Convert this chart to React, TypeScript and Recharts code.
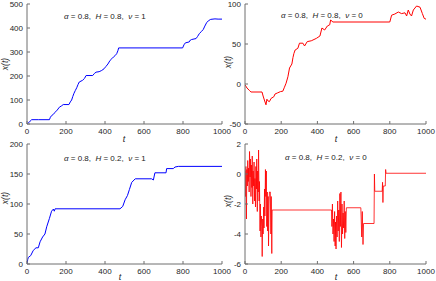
import React from 'react';
import { LineChart, Line, XAxis, YAxis } from 'recharts';

// panel 1: alpha 0.8, H 0.8, v 1
const t1 = [0, 8, 16, 24, 60, 115, 120, 126, 135, 144, 155, 166, 176, 186, 215, 222, 229, 235, 241, 248, 255, 262, 268, 285, 295, 303, 337, 345, 354, 370, 383, 395, 405, 415, 426, 435, 443, 452, 460, 466, 470, 798, 805, 812, 832, 838, 844, 867, 875, 884, 894, 904, 912, 921, 930, 942, 964, 980, 1000];
const x1 = [0, 5, 12, 18, 18, 18, 28, 35, 40, 49, 58, 70, 75, 81, 81, 92, 100, 115, 128, 140, 151, 165, 175, 182, 190, 202, 202, 210, 216, 218, 223, 230, 240, 250, 265, 272, 279, 285, 293, 305, 317, 317, 330, 338, 342, 350, 352, 356, 365, 377, 385, 394, 408, 422, 430, 436, 438, 437, 437];

// panel 2: alpha 0.8, H 0.8, v 0
const t2 = [0, 11, 24, 33, 94, 100, 107, 116, 121, 126, 135, 144, 159, 166, 181, 196, 209, 218, 227, 237, 246, 259, 265, 270, 277, 292, 301, 320, 329, 344, 366, 394, 414, 425, 440, 455, 468, 473, 486, 800, 810, 828, 847, 865, 884, 893, 902, 911, 920, 930, 948, 967, 980, 990, 1000];
const x2 = [-1, -5, -8, -10, -10, -15, -20, -26, -19, -21, -22, -18, -16, -12.5, -11, -9.5, -9, -4, 1, 9, 20, 25, 33, 38, 42.5, 44.6, 51, 51, 47.5, 53, 54, 57, 60, 70, 67.5, 72.5, 74, 80, 77.5, 77.5, 86, 87.5, 90, 88, 89, 85, 92.5, 87.5, 85, 92.5, 97.5, 96, 88, 82, 81];

// panel 3: alpha 0.8, H 0.2, v 1
const t3 = [0, 4, 7, 19, 32, 46, 58, 67, 80, 92, 101, 115, 126, 135, 140, 144, 477, 491, 503, 515, 525, 537, 549, 555, 639, 648, 656, 713, 716, 750, 759, 776, 1000];
const x3 = [0, 8, 11, 14, 22.6, 27, 27, 37, 45, 50, 62, 76, 88, 91.5, 88, 92, 92, 96, 107, 114, 124, 136, 140, 142, 142, 140, 152, 152, 159, 159, 161.6, 162.7, 162.7];

// panel 4: alpha 0.8, H 0.2, v 0
const t4 = [
  0, 3, 5, 8, 10, 13, 15, 18, 20, 23, 25, 28, 30, 33, 35, 38, 40, 43, 45, 48, 50, 53, 55, 58, 60, 63, 65, 68, 70, 73,
  75, 78, 80, 83, 85, 88, 90, 93, 95, 98, 100, 103, 105, 108, 110, 113, 115, 118, 120, 123, 125, 128, 130, 133, 135, 140, 143, 145, 148, 150,
  478, 480, 483, 486, 489, 492, 495, 498, 500, 503, 506, 509, 512, 515, 518, 521, 524, 527, 530, 533, 536, 539, 542, 545, 548, 551, 554, 557, 560,
  640, 645, 648, 652, 655, 713, 715, 717, 758, 760, 762, 764, 775, 777, 779, 1000,
];
const x4 = [
  0.2, -1.5, 0.5, -3.0, 0.3, -0.8, 0.9, -0.5, 0.4, -1.2, 1.5, -0.2, 1.0, -1.5, 0.6, -0.9, 1.2, -2.0, 0.2, -0.8, 0.8, -1.8, -0.3, -2.2, 0.5, -1.0, 1.0, -2.5, 0.2, -1.2,
  1.6, -1.8, -0.5, -3.8, -2.0, -4.2, -2.8, -3.5, -5.5, -3.0, -4.0, -2.2, -3.6, -1.0, -2.8, 0.3, -1.5, 0.2, -3.5, -1.2, -3.8, -1.5, -4.8, -2.0, -1.2, -1.2, -4.0, -1.5, -5.3, -2.4,
  -2.4, -3.5, -2.0, -4.0, -3.0, -4.5, -2.5, -4.8, -3.2, -5.0, -2.8, -4.2, -1.8, -3.8, -2.4, -4.5, -1.3, -3.5, -1.2, -4.9, -2.0, -4.0, -2.6, -3.6, -1.8, -4.3, -2.5, -3.9, -2.25,
  -2.25, -4.2, -2.5, -4.7, -3.3, -3.3, 0.0, -1.15, -1.15, -0.55, -1.9, -0.8, -0.8, 0.3, 0.05, 0.05,
];

const tTicks = [0, 200, 400, 600, 800, 1000];
const yTicks1 = [0, 100, 200, 300, 400, 500];
const yTicks2 = [-50, 0, 50, 100];
const yTicks3 = [0, 50, 100, 150, 200];
const yTicks4 = [-6, -4, -2, 0, 2];

const hValues = ['0.8', '0.8', '0.2', '0.2'];
const vValues = ['1', '0', '1', '0'];

const zip = (t: number[], x: number[]) => t.map((tt, i) => ({ t: tt, x: x[i] }));

const FONT = "'Liberation Sans', Arial, Helvetica, sans-serif";
const AXIS = '#6e6e6e';
const TICK = { fontSize: 8, fill: '#262626', fontFamily: FONT };

interface PanelProps {
  left: number;
  top: number;
  width: number;
  height: number;
  marginRight: number;
  xAxisHeight: number;
  data: { t: number; x: number }[];
  yTicks: number[];
  color: string;
  lineWidth?: number;
}

const Panel: React.FC<PanelProps> = ({ left, top, width, height, marginRight, xAxisHeight, data, yTicks, color, lineWidth = 1 }) => {
  const yDomain = [yTicks[0], yTicks[yTicks.length - 1]];
  return (
    <div style={{ position: 'absolute', left, top }}>
      <LineChart width={width} height={height} data={data} margin={{ top: 4, right: marginRight, bottom: 0, left: 0 }}>
        <XAxis
          dataKey="t"
          type="number"
          domain={[0, 1000]}
          ticks={tTicks}
          interval={0}
          height={xAxisHeight}
          stroke={AXIS}
          tickSize={-3}
          tickMargin={7}
          tick={TICK}
          allowDataOverflow
        />
        <XAxis
          xAxisId="top"
          orientation="top"
          dataKey="t"
          type="number"
          domain={[0, 1000]}
          ticks={tTicks}
          interval={0}
          height={0}
          stroke={AXIS}
          tickSize={-3}
          tick={false}
          allowDataOverflow
        />
        <YAxis
          type="number"
          domain={yDomain}
          ticks={yTicks}
          interval={0}
          width={27}
          stroke={AXIS}
          tickSize={-3}
          tickMargin={7}
          tick={TICK}
          allowDataOverflow
        />
        <YAxis
          yAxisId="right"
          orientation="right"
          type="number"
          domain={yDomain}
          ticks={yTicks}
          interval={0}
          width={0}
          stroke={AXIS}
          tickSize={-3}
          tick={false}
          allowDataOverflow
        />
        <Line type="linear" dataKey="x" stroke={color} strokeWidth={lineWidth} dot={false} isAnimationActive={false} />
      </LineChart>
    </div>
  );
};

const Note: React.FC<{ left: number; top: number; h: string; v: string }> = ({ left, top, h, v }) => (
  <div style={{ position: 'absolute', left, top, fontSize: 8, fontFamily: FONT, color: '#222', whiteSpace: 'pre', lineHeight: '10px' }}>
    <i>α</i>{' = 0.8,  '}<i>H</i>{` = ${h},  `}<i>ν</i>{` = ${v}`}
  </div>
);

const YTitle: React.FC<{ cx: number; cy: number }> = ({ cx, cy }) => (
  <div
    style={{
      position: 'absolute',
      left: cx,
      top: cy,
      transform: 'translate(-50%, -50%) rotate(-90deg)',
      fontSize: 8.5,
      fontFamily: FONT,
      fontStyle: 'italic',
      color: '#262626',
      whiteSpace: 'pre',
      lineHeight: '10px',
    }}
  >
    x(t)
  </div>
);

const XTitle: React.FC<{ cx: number; cy: number }> = ({ cx, cy }) => (
  <div
    style={{
      position: 'absolute',
      left: cx,
      top: cy,
      transform: 'translate(-50%, -50%)',
      fontSize: 9,
      fontFamily: FONT,
      fontStyle: 'italic',
      color: '#262626',
      lineHeight: '10px',
    }}
  >
    t
  </div>
);

export default function App() {
  return (
    <div style={{ position: 'absolute', left: 0, top: 0, width: 436, height: 281, background: '#fff', overflow: 'hidden' }}>
      <Panel left={0} top={0} width={236} height={140} marginRight={14} xAxisHeight={16} data={zip(t1, x1)} yTicks={yTicks1} color="#0000ff" />
      <Panel left={218} top={0} width={218} height={140} marginRight={10} xAxisHeight={16} data={zip(t2, x2)} yTicks={yTicks2} color="#ff0000" />
      <Panel left={0} top={140} width={236} height={141} marginRight={14} xAxisHeight={17} data={zip(t3, x3)} yTicks={yTicks3} color="#0000ff" />
      <Panel left={218} top={140} width={218} height={141} marginRight={10} xAxisHeight={17} data={zip(t4, x4)} yTicks={yTicks4} color="#ff0000" lineWidth={0.8} />

      <Note left={64} top={12} h={hValues[0]} v={vValues[0]} />
      <Note left={281} top={11} h={hValues[1]} v={vValues[1]} />
      <Note left={64} top={154} h={hValues[2]} v={vValues[2]} />
      <Note left={285} top={153} h={hValues[3]} v={vValues[3]} />

      <YTitle cx={5} cy={64} />
      <YTitle cx={228} cy={62} />
      <YTitle cx={5} cy={198} />
      <YTitle cx={228} cy={201} />

      <XTitle cx={124} cy={139} />
      <XTitle cx={336} cy={139} />
      <XTitle cx={120} cy={277} />
      <XTitle cx={336} cy={277} />
    </div>
  );
}
